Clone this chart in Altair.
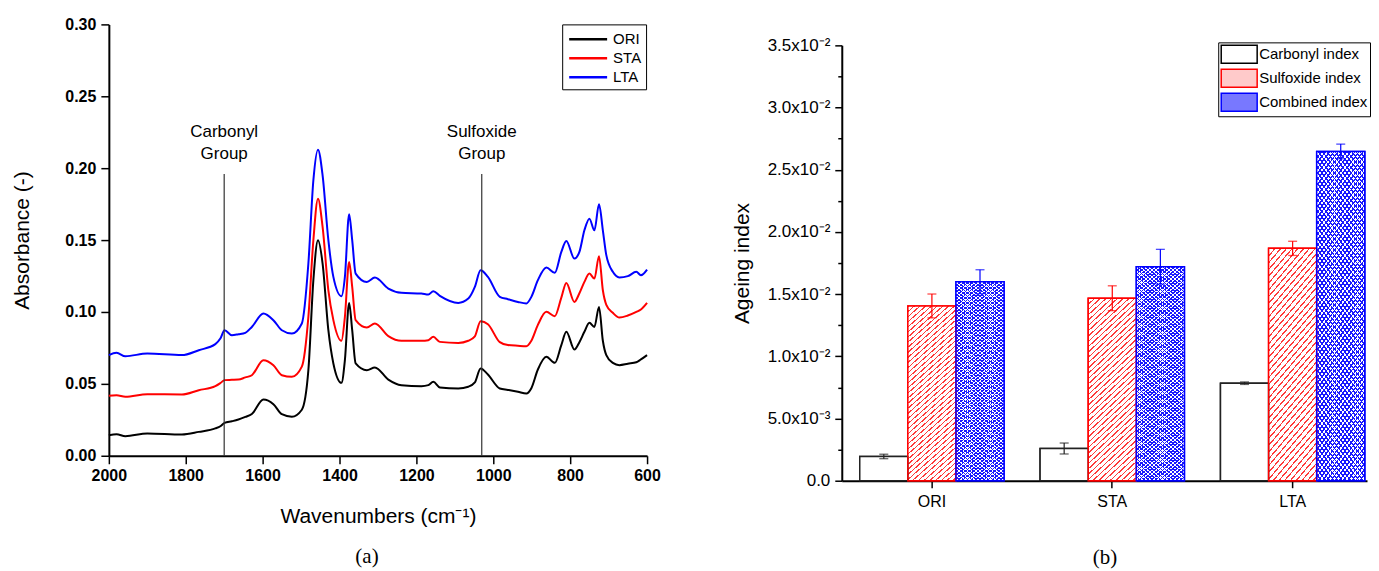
import altair as alt
import pandas as pd

# ---- (a) FTIR spectra ----
wavenumber = [2000, 1980, 1957, 1900, 1810, 1766, 1723, 1710, 1699, 1680, 1663, 1645, 1628,
              1598, 1572, 1550, 1524, 1498, 1481, 1468, 1456, 1444, 1429, 1416, 1395, 1386,
              1375, 1367, 1358, 1329, 1308, 1273, 1239, 1187, 1169, 1156, 1139, 1091, 1065,
              1048, 1033, 1014, 983, 962, 936, 914, 901, 884, 862, 840, 823, 810, 789, 776,
              763, 750, 737, 725, 715, 706, 689, 672, 650, 628, 616, 600]
ori = [0.0143, 0.0150, 0.0136, 0.0155, 0.0148, 0.0166, 0.0190, 0.0205, 0.0229, 0.0240, 0.0252,
       0.0270, 0.0290, 0.0391, 0.0359, 0.0289, 0.0271, 0.0320, 0.0595, 0.1221, 0.1499, 0.1337,
       0.0873, 0.0642, 0.0507, 0.0665, 0.1063, 0.0873, 0.0642, 0.0595, 0.0614, 0.0530, 0.0491,
       0.0484, 0.0491, 0.0514, 0.0475, 0.0468, 0.0480, 0.0510, 0.0607, 0.0565, 0.0468, 0.0458,
       0.0445, 0.0433, 0.0470, 0.0600, 0.0688, 0.0646, 0.0770, 0.0862, 0.0739, 0.0790, 0.0862,
       0.0925, 0.0896, 0.1035, 0.0800, 0.0700, 0.0646, 0.0630, 0.0640, 0.0650, 0.0670, 0.0700]
sta = [0.0417, 0.0420, 0.0410, 0.0428, 0.0426, 0.0456, 0.0484, 0.0505, 0.0526, 0.0528, 0.0530,
       0.0545, 0.0560, 0.0665, 0.0630, 0.0560, 0.0549, 0.0620, 0.0966, 0.1499, 0.1788, 0.1591,
       0.1151, 0.0943, 0.0799, 0.0966, 0.1348, 0.1174, 0.0943, 0.0892, 0.0920, 0.0832, 0.0799,
       0.0799, 0.0804, 0.0827, 0.0792, 0.0785, 0.0800, 0.0830, 0.0935, 0.0915, 0.0790, 0.0770,
       0.0765, 0.0762, 0.0800, 0.0910, 0.1001, 0.0971, 0.1100, 0.1202, 0.1070, 0.1130, 0.1209,
       0.1267, 0.1232, 0.1388, 0.1151, 0.1050, 0.0994, 0.0961, 0.0975, 0.1000, 0.1017, 0.1063]
lta = [0.0700, 0.0716, 0.0692, 0.0711, 0.0700, 0.0734, 0.0776, 0.0815, 0.0873, 0.0838, 0.0845,
       0.0855, 0.0896, 0.0989, 0.0943, 0.0873, 0.0850, 0.0920, 0.1337, 0.1916, 0.2129, 0.1950,
       0.1499, 0.1244, 0.1110, 0.1244, 0.1680, 0.1499, 0.1267, 0.1209, 0.1239, 0.1163, 0.1133,
       0.1128, 0.1121, 0.1144, 0.1112, 0.1063, 0.1093, 0.1174, 0.1290, 0.1244, 0.1105, 0.1089,
       0.1070, 0.1059, 0.1105, 0.1221, 0.1309, 0.1272, 0.1418, 0.1494, 0.1371, 0.1418, 0.1568,
       0.1649, 0.1568, 0.1749, 0.1568, 0.1395, 0.1279, 0.1240, 0.1249, 0.1279, 0.1256, 0.1295]
samples = ["ORI", "STA", "LTA"]
line_colors = ["black", "#ff0000", "#0000ff"]

group_labels = ["Carbonyl\nGroup", "Sulfoxide\nGroup"]
group_wn = [1700, 1030]
group_top = [0.196, 0.196]

# ---- (b) ageing indices ----
indices = ["Carbonyl index", "Sulfoxide index", "Combined index"]
carbonyl = [0.00195, 0.00259, 0.00784]
carbonyl_err = [0.00018, 0.00044, 0.00010]
sulfoxide = [0.01405, 0.01467, 0.01868]
sulfoxide_err = [0.00096, 0.00100, 0.00057]
combined = [0.01600, 0.01720, 0.02647]
combined_err = [0.00096, 0.00140, 0.00059]
swatch_fills = ["white", "#ffcaca", "#7878ff"]
bar_strokes = ["black", "#ff0000", "#0000ff"]
err_colors = ["#222222", "#ff0000", "#0000ff"]

spectra = pd.DataFrame({
    "Wavenumber": wavenumber * 3,
    "Absorbance": ori + sta + lta,
    "Sample": [s for s in samples for _ in wavenumber],
})
groups = pd.DataFrame({"label": group_labels, "wn": group_wn, "top": group_top})

bars = pd.DataFrame({
    "Sample": samples * 3,
    "Index": [i for i in indices for _ in samples],
    "value": carbonyl + sulfoxide + combined,
    "err": carbonyl_err + sulfoxide_err + combined_err,
})

SANS = "Liberation Sans"
CLEAR = "rgba(255,255,255,0)"


def hatch(color, k, step, frac, back=False):
    # striped linear gradient (bounding-box units) used to imitate hatching
    stops = []
    i = 0
    while (i + 1) * step <= 1:
        a, b, c = i * step, i * step + frac * step, (i + 1) * step
        stops += [{"offset": a, "color": color}, {"offset": b, "color": color},
                  {"offset": b, "color": CLEAR}, {"offset": c, "color": CLEAR}]
        i += 1
    if back:
        return {"gradient": "linear", "x1": 0, "y1": 1, "x2": 1, "y2": 1 - k, "stops": stops}
    return {"gradient": "linear", "x1": 0, "y1": 0, "x2": 1, "y2": k, "stops": stops}


# ---------------- left panel ----------------
x_wn = alt.X(
    "Wavenumber:Q",
    scale=alt.Scale(domain=[2000, 600], nice=False),
    axis=alt.Axis(
        values=list(range(2000, 599, -100)), format="d", labelFlush=False,
        labelExpr="datum.value % 200 == 0 ? datum.label : ''",
        tickSize={"condition": {"test": "datum.value % 200 != 0", "value": 5}, "value": 8},
        labelFont=SANS, labelFontWeight="bold", labelFontSize=16, labelPadding=4,
        titleFont=SANS, titleFontWeight="normal", titleFontSize=21, titlePadding=22,
    ),
    title="Wavenumbers (cm⁻¹)",
)
y_abs = alt.Y(
    "Absorbance:Q",
    scale=alt.Scale(domain=[0, 0.30], nice=False),
    axis=alt.Axis(
        values=[0, 0.05, 0.10, 0.15, 0.20, 0.25, 0.30], format=".2f", tickSize=8,
        labelFlush=False,
        labelFont=SANS, labelFontWeight="bold", labelFontSize=16, labelPadding=5,
        titleFont=SANS, titleFontWeight="normal", titleFontSize=21,
        titleX=-86, titleBaseline="middle",
    ),
    title="Absorbance (-)",
)

lines = alt.Chart(spectra).mark_line(strokeWidth=2, interpolate="monotone").encode(
    x=x_wn,
    y=y_abs,
    color=alt.Color(
        "Sample:N",
        scale=alt.Scale(domain=samples, range=line_colors),
        sort=samples,
        legend=alt.Legend(
            title=None, orient="none", legendX=454, legendY=0,
            strokeColor="black", fillColor="white", padding=4,
            symbolType="M-2,0H2", symbolSize=361, symbolStrokeWidth=2.5,
            symbolOffset=11, labelOffset=14, labelFont=SANS, labelFontSize=15,
            labelColor="black", rowPadding=0,
        ),
    ),
)

markers = alt.Chart(groups).mark_rule(color="#333333", strokeWidth=1.2).encode(
    x="wn:Q", y="top:Q", y2=alt.datum(0)
)
marker_text = alt.Chart(groups).mark_text(
    font=SANS, fontSize=17, baseline="bottom", dy=-33, lineBreak="\n", lineHeight=22, color="black"
).encode(x="wn:Q", y="top:Q", text="label:N")

left = alt.layer(lines, markers, marker_text).properties(
    width=539, height=432,
    title=alt.TitleParams("(a)", orient="bottom", font="Liberation Serif", fontSize=21,
                          fontWeight="normal", offset=19, dx=-11, frame="group"),
)

# ---------------- right panel ----------------
x_cat = alt.X(
    "Sample:N", sort=samples,
    scale=alt.Scale(paddingInner=0.2, paddingOuter=0.056, align=0.89),
    axis=alt.Axis(
        labelAngle=0, tickSize=7, labelFont=SANS, labelFontSize=16, labelPadding=6,
        titleFont="Liberation Serif", titleFontSize=21, titleFontWeight="normal", titlePadding=37,
    ),
    title="(b)",
)
xo = alt.XOffset("Index:N", sort=indices, scale=alt.Scale(domain=indices))
y_axis = alt.Axis(
    values=[i * 0.0025 for i in range(15)], labelFlush=False,
    labelExpr=("datum.value == 0 ? '0.0' : (round(datum.value * 400) % 2 == 1 ? '' : "
               "(datum.value < 0.0099 ? format(datum.value * 1000, '.1f') + 'x10⁻³' : "
               "format(datum.value * 100, '.1f') + 'x10⁻²'))"),
    tickSize={"condition": {"test": "round(datum.value * 400) % 2 == 1", "value": 4}, "value": 7},
    labelFont=SANS, labelFontSize=17, labelPadding=5,
    titleFont=SANS, titleFontWeight="normal", titleFontSize=21,
    titleX=-99, titleBaseline="middle",
)
y_scale = alt.Scale(domain=[0, 0.035], nice=False)
y_val = alt.Y("value:Q", scale=y_scale, axis=y_axis, title="Ageing index")

red_hatch = hatch("#ff3a3a", 4.1, 0.0067, 0.27)
blue_fwd = hatch("#1a1aff", 5.2, 0.0031, 0.35)
blue_back = hatch("#1a1aff", 5.2, 0.0031, 0.35, back=True)

# bars that carry the legend (covered below by the hatched versions)
legend_bars = alt.Chart(bars).mark_bar(strokeWidth=1.5).encode(
    x=x_cat,
    xOffset=xo,
    y=y_val,
    fill=alt.Fill(
        "Index:N", sort=indices, scale=alt.Scale(domain=indices, range=swatch_fills),
        legend=alt.Legend(
            title=None, orient="none", legendX=377, legendY=18,
            strokeColor="black", fillColor="white", padding=2,
            symbolType="M-2,-1H2V1H-2Z", symbolSize=324, symbolStrokeWidth=1.5,
            symbolOffset=9, labelOffset=10, labelFont=SANS, labelFontSize=15,
            labelColor="black", rowPadding=0,
        ),
    ),
    stroke=alt.Stroke("Index:N", sort=indices, scale=alt.Scale(domain=indices, range=bar_strokes)),
)
white_bars = alt.Chart(bars).mark_bar(fill="white", strokeWidth=0).encode(
    x=x_cat, xOffset=xo, y=y_val
)
sulf_hatch = alt.Chart(bars).transform_filter(
    "datum.Index === 'Sulfoxide index'"
).mark_bar(fill=red_hatch, strokeWidth=0).encode(x=x_cat, xOffset=xo, y=y_val)
comb_hatch_a = alt.Chart(bars).transform_filter(
    "datum.Index === 'Combined index'"
).mark_bar(fill=blue_fwd, strokeWidth=0).encode(x=x_cat, xOffset=xo, y=y_val)
comb_hatch_b = alt.Chart(bars).transform_filter(
    "datum.Index === 'Combined index'"
).mark_bar(fill=blue_back, strokeWidth=0).encode(x=x_cat, xOffset=xo, y=y_val)

err_color = alt.Color("Index:N", scale=alt.Scale(domain=indices, range=err_colors), legend=None)
outline = alt.Chart(bars).mark_bar(filled=False, strokeWidth=1.5).encode(
    x=x_cat, xOffset=xo, y=y_val, color=err_color
)

err_base = alt.Chart(bars).transform_calculate(
    lo="datum.value - datum.err", hi="datum.value + datum.err"
)
err_rule = err_base.mark_rule(strokeWidth=1.2).encode(
    x=x_cat, xOffset=xo,
    y=alt.Y("lo:Q", scale=y_scale, axis=y_axis, title="Ageing index"),
    y2="hi:Q",
    color=err_color,
)
cap_hi = err_base.mark_tick(size=9, thickness=1.3).encode(
    x=x_cat, xOffset=xo,
    y=alt.Y("hi:Q", scale=y_scale, axis=y_axis, title="Ageing index"),
    color=err_color,
)
cap_lo = err_base.mark_tick(size=9, thickness=1.3).encode(
    x=x_cat, xOffset=xo,
    y=alt.Y("lo:Q", scale=y_scale, axis=y_axis, title="Ageing index"),
    color=err_color,
)

right = alt.layer(
    legend_bars, white_bars, sulf_hatch, comb_hatch_a, comb_hatch_b, outline,
    err_rule, cap_hi, cap_lo
).properties(width=526, height=436)

# empty strip that pushes the right panel down a little
spacer = alt.Chart(pd.DataFrame({"s": [0]})).mark_rule(opacity=0).encode(
    x=alt.value(0), y=alt.value(0), y2=alt.value(1)
).properties(width=10, height=12)

right_col = alt.vconcat(spacer, right, spacing=0)

chart = alt.hconcat(left, right_col, spacing=71).resolve_scale(
    color="independent", fill="independent", stroke="independent"
).resolve_legend(
    color="independent", fill="independent", stroke="independent"
).configure_view(
    stroke=None
).configure_axis(
    grid=False, domainColor="black", domainWidth=2, tickColor="black", tickWidth=1.5,
    labelColor="black", titleColor="black",
).properties(
    padding={"left": 4, "top": 8, "right": 0, "bottom": 4}
)

chart.save("out.html", embed_options={"renderer": "svg", "actions": False})
